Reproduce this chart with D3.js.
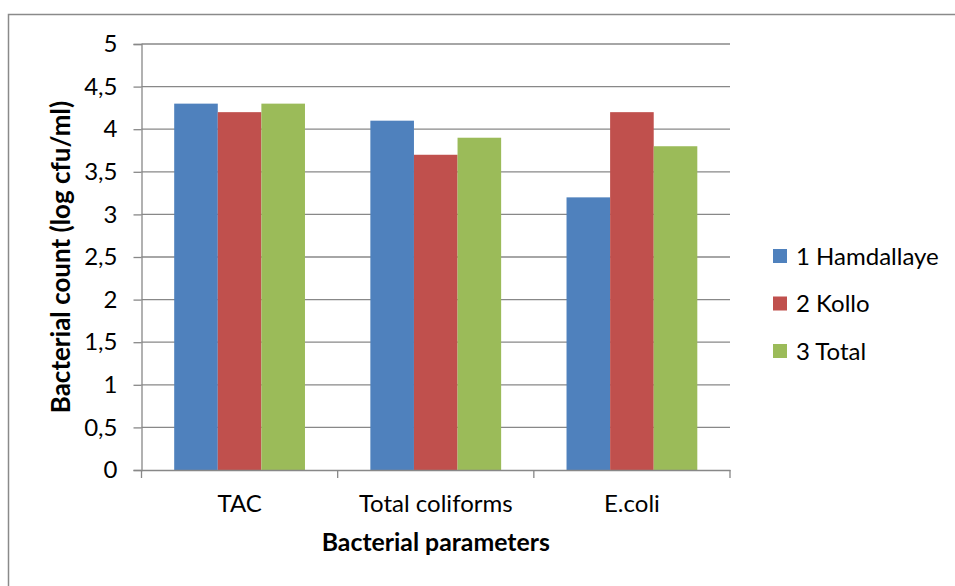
<!DOCTYPE html>
<html>
<head>
<meta charset="utf-8">
<script src="https://cdn.jsdelivr.net/npm/d3@7"></script>
<style>
  html, body { margin: 0; padding: 0; background: #fff; }
  svg { display: block; }
  text { font-family: Lato, "Open Sans", sans-serif; fill: #000; }
</style>
</head>
<body>
<svg id="chart" width="955" height="586"></svg>
<script>
// Bacterial counts per parameter and site
const categories = ["TAC", "Total coliforms", "E.coli"];
const seriesNames = ["1 Hamdallaye", "2 Kollo", "3 Total"];
const hamdallaye = [4.3, 4.1, 3.2];
const kollo = [4.2, 3.7, 4.2];
const total = [4.3, 3.9, 3.8];
const yTicks = [0, 0.5, 1, 1.5, 2, 2.5, 3, 3.5, 4, 4.5, 5];
const colors = ["#4F81BD", "#C0504D", "#9BBB59"];

const seriesValues = [hamdallaye, kollo, total];

const svg = d3.select("#chart");
const W = 955, H = 586;
const plot = { left: 141.5, right: 730, top: 44, bottom: 470 };
const fs = "24px";

// Outer chart frame (extends past the canvas on the right and bottom)
svg.append("rect")
  .attr("x", 8.5).attr("y", 14.5)
  .attr("width", W + 20).attr("height", H + 20)
  .attr("fill", "none").attr("stroke", "#8a8a8a").attr("stroke-width", 1.5);

const x0 = d3.scaleBand().domain(categories).range([plot.left, plot.right]).paddingInner(0).paddingOuter(0);
const groupW = x0.bandwidth();
const barW = groupW / 4.5; // gap width 150%
const x1 = d3.scaleBand().domain(seriesNames).range([0.75 * barW, 3.75 * barW]).padding(0);
const y = d3.scaleLinear().domain([0, 5]).range([plot.bottom, plot.top]);

// Horizontal gridlines
svg.append("g").selectAll("line").data(yTicks.filter(t => t > 0)).join("line")
  .attr("x1", plot.left).attr("x2", plot.right)
  .attr("y1", d => y(d)).attr("y2", d => y(d))
  .attr("stroke", "#888").attr("stroke-width", 1.3);

// Bars
const groups = svg.append("g").selectAll("g").data(categories).join("g")
  .attr("transform", c => `translate(${x0(c)},0)`);
groups.selectAll("rect")
  .data((c, i) => seriesNames.map((s, j) => ({ s, j, v: seriesValues[j][i] })))
  .join("rect")
  .attr("x", d => x1(d.s))
  .attr("width", x1.bandwidth())
  .attr("y", d => y(d.v))
  .attr("height", d => y(0) - y(d.v))
  .attr("fill", d => colors[d.j]);

// Y axis
const yAxis = svg.append("g").attr("transform", `translate(${plot.left},0)`)
  .call(d3.axisLeft(y).tickValues(yTicks).tickSize(8).tickPadding(16)
    .tickFormat(d => String(d).replace(".", ",")));
yAxis.select(".domain").attr("stroke", "#888").attr("stroke-width", 1.3);
yAxis.selectAll(".tick line").attr("stroke", "#888").attr("stroke-width", 1.3);
yAxis.selectAll(".tick text").style("font-family", "Lato, sans-serif").style("font-size", fs).attr("fill", "#000");

// X axis
const xAxis = svg.append("g").attr("transform", `translate(0,${plot.bottom})`)
  .call(d3.axisBottom(x0).tickSize(0).tickPadding(25));
xAxis.select(".domain").attr("stroke", "#888").attr("stroke-width", 1.3);
xAxis.selectAll(".tick text").style("font-family", "Lato, sans-serif").style("font-size", fs).attr("fill", "#000");
// Category boundary tick marks
const bounds = categories.map(c => x0(c)).concat([plot.right]);
xAxis.append("g").selectAll("line").data(bounds).join("line")
  .attr("x1", d => d).attr("x2", d => d).attr("y1", 0).attr("y2", 8)
  .attr("stroke", "#888").attr("stroke-width", 1.3);

// Axis titles
svg.append("text")
  .attr("x", (plot.left + plot.right) / 2).attr("y", 551)
  .attr("text-anchor", "middle")
  .style("font-size", "24.8px").style("font-weight", "bold")
  .text("Bacterial parameters");
svg.append("text")
  .attr("transform", `translate(70,${(plot.top + plot.bottom) / 2}) rotate(-90)`)
  .attr("text-anchor", "middle")
  .style("font-size", "26px").style("font-weight", "bold")
  .text("Bacterial count (log cfu/ml)");

// Legend
const legend = svg.append("g").selectAll("g").data(seriesNames).join("g")
  .attr("transform", (d, i) => `translate(773,${256 + i * 47.5})`);
legend.append("rect").attr("x", 0).attr("y", -7).attr("width", 14).attr("height", 14)
  .attr("fill", (d, i) => colors[i]);
legend.append("text").attr("x", 23).attr("y", 0).attr("dy", "0.36em")
  .style("font-size", fs).text(d => d);
</script>
</body>
</html>
